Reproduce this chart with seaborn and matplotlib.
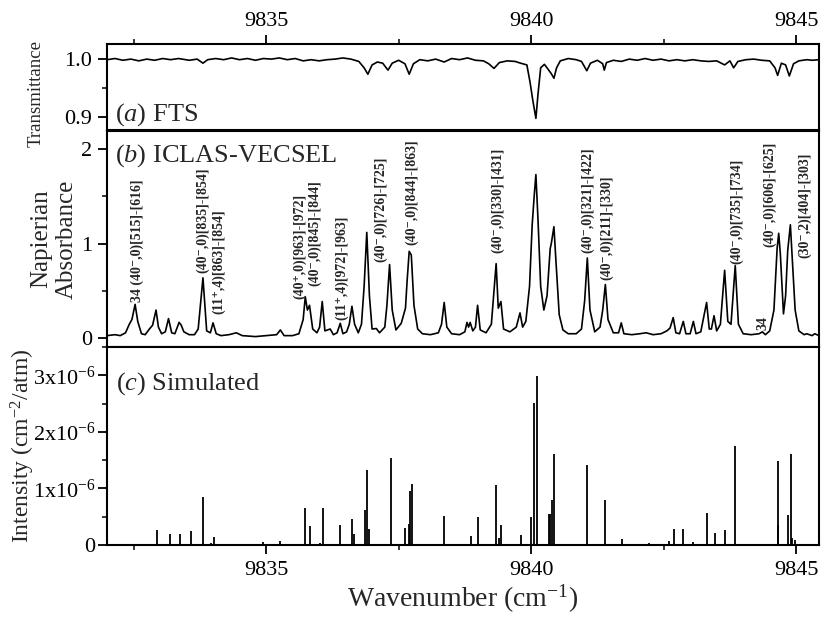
import matplotlib
matplotlib.use("Agg")
import numpy as np
import pandas as pd
import matplotlib.pyplot as plt
import seaborn as sns
from matplotlib.ticker import MultipleLocator, FuncFormatter

# ---------------- data ----------------
# (a) FTS transmittance trace (vertices)
fts_wn = [9832.00, 9832.15, 9832.30, 9832.45, 9832.60, 9832.75, 9832.90, 9833.05, 9833.20, 9833.35,
          9833.55, 9833.70, 9833.81, 9833.90, 9834.05, 9834.20, 9834.35, 9834.50, 9834.65, 9834.80,
          9834.95, 9835.10, 9835.25, 9835.40, 9835.55, 9835.70, 9835.85, 9836.00, 9836.15, 9836.30,
          9836.45, 9836.60, 9836.75, 9836.85, 9836.92, 9837.00, 9837.10, 9837.20, 9837.30, 9837.38,
          9837.50, 9837.62, 9837.70, 9837.78, 9837.90, 9838.05, 9838.20, 9838.36, 9838.50, 9838.65,
          9838.80, 9838.95, 9839.10, 9839.20, 9839.30, 9839.40, 9839.55, 9839.70, 9839.80, 9839.92,
          9839.98, 9840.03, 9840.09, 9840.13, 9840.18, 9840.25, 9840.30, 9840.38, 9840.43, 9840.48,
          9840.55, 9840.70, 9840.85, 9840.95, 9841.05, 9841.12, 9841.25, 9841.35, 9841.38, 9841.42,
          9841.55, 9841.70, 9841.85, 9842.00, 9842.15, 9842.30, 9842.45, 9842.60, 9842.75, 9842.90,
          9843.05, 9843.20, 9843.35, 9843.50, 9843.65, 9843.75, 9843.82, 9843.90, 9844.05, 9844.20,
          9844.35, 9844.50, 9844.60, 9844.65, 9844.72, 9844.80, 9844.87, 9844.95, 9845.05, 9845.20,
          9845.30, 9845.43]
fts_tr = [0.999, 1.001, 0.998, 1.000, 0.997, 1.000, 0.998, 1.001, 0.999, 1.001,
          0.998, 1.000, 0.993, 0.999, 1.001, 0.999, 1.002, 0.999, 1.001, 0.998,
          1.001, 1.000, 1.002, 0.999, 1.001, 0.997, 0.999, 0.997, 0.999, 1.000,
          1.002, 1.000, 0.996, 0.985, 0.974, 0.990, 0.995, 0.993, 0.981, 0.993,
          0.998, 0.992, 0.974, 0.992, 0.999, 0.997, 1.000, 0.995, 1.001, 0.999,
          1.002, 0.998, 0.997, 0.992, 0.984, 0.994, 0.997, 0.996, 0.993, 0.990,
          0.960, 0.930, 0.898, 0.940, 0.985, 0.991, 0.985, 0.975, 0.967, 0.985,
          0.997, 1.001, 0.999, 0.996, 0.980, 0.993, 0.998, 0.992, 0.981, 0.994,
          0.998, 0.996, 1.000, 0.998, 1.001, 0.998, 1.000, 0.997, 0.999, 0.997,
          0.999, 0.997, 0.996, 0.997, 0.990, 0.997, 0.985, 0.996, 0.999, 1.000,
          0.998, 0.997, 0.985, 0.972, 0.993, 0.990, 0.971, 0.992, 0.997, 0.999,
          0.998, 0.999]

# (b) ICLAS-VECSEL absorbance trace (vertices)
icl_wn = [9832.00, 9832.15, 9832.25, 9832.35, 9832.42, 9832.47, 9832.53, 9832.58, 9832.65, 9832.72,
          9832.80, 9832.86, 9832.925, 9832.97, 9833.03, 9833.10, 9833.16, 9833.22, 9833.28, 9833.36,
          9833.40, 9833.45, 9833.55, 9833.65, 9833.72, 9833.81, 9833.88, 9833.95, 9834.00, 9834.06,
          9834.15, 9834.30, 9834.44, 9834.55, 9834.80, 9835.00, 9835.20, 9835.27, 9835.34, 9835.50,
          9835.62, 9835.70, 9835.74, 9835.78, 9835.82, 9835.88, 9835.96, 9836.01, 9836.06, 9836.11,
          9836.21, 9836.27, 9836.34, 9836.40, 9836.45, 9836.52, 9836.57, 9836.62, 9836.67, 9836.74,
          9836.80, 9836.85, 9836.90, 9836.95, 9837.00, 9837.08, 9837.14, 9837.24, 9837.28, 9837.33,
          9837.38, 9837.45, 9837.55, 9837.63, 9837.66, 9837.70, 9837.74, 9837.79, 9837.86, 9837.95,
          9838.10, 9838.25, 9838.31, 9838.36, 9838.41, 9838.50, 9838.65, 9838.75, 9838.79, 9838.82,
          9838.85, 9838.90, 9838.95, 9838.99, 9839.04, 9839.15, 9839.25, 9839.34, 9839.38, 9839.43,
          9839.48, 9839.60, 9839.72, 9839.79, 9839.84, 9839.90, 9839.97, 9840.02, 9840.06, 9840.09,
          9840.13, 9840.18, 9840.24, 9840.30, 9840.36, 9840.38, 9840.43, 9840.47, 9840.53, 9840.60,
          9840.70, 9840.85, 9840.95, 9841.01, 9841.06, 9841.11, 9841.20, 9841.30, 9841.35, 9841.40,
          9841.45, 9841.55, 9841.65, 9841.70, 9841.75, 9841.90, 9842.05, 9842.17, 9842.30, 9842.45,
          9842.56, 9842.62, 9842.68, 9842.73, 9842.80, 9842.87, 9842.92, 9843.00, 9843.06, 9843.11,
          9843.20, 9843.31, 9843.36, 9843.40, 9843.45, 9843.50, 9843.57, 9843.65, 9843.71, 9843.77,
          9843.85, 9843.91, 9844.00, 9844.15, 9844.30, 9844.36, 9844.42, 9844.50, 9844.58, 9844.64,
          9844.67, 9844.70, 9844.76, 9844.80, 9844.84, 9844.89, 9844.93, 9844.98, 9845.05, 9845.15,
          9845.20, 9845.30, 9845.35, 9845.43]
icl_ab = [0.03, 0.04, 0.03, 0.06, 0.15, 0.20, 0.36, 0.18, 0.05, 0.04,
          0.10, 0.14, 0.30, 0.12, 0.05, 0.07, 0.21, 0.06, 0.05, 0.17,
          0.14, 0.07, 0.04, 0.04, 0.10, 0.64, 0.08, 0.06, 0.165, 0.05,
          0.03, 0.04, 0.06, 0.03, 0.02, 0.03, 0.04, 0.09, 0.03, 0.03,
          0.05, 0.20, 0.44, 0.30, 0.35, 0.10, 0.06, 0.12, 0.39, 0.08,
          0.10, 0.04, 0.06, 0.16, 0.05, 0.07, 0.15, 0.34, 0.15, 0.06,
          0.15, 0.55, 1.12, 0.45, 0.10, 0.105, 0.06, 0.12, 0.35, 0.78,
          0.30, 0.09, 0.16, 0.32, 0.60, 0.92, 0.88, 0.35, 0.10, 0.05,
          0.04, 0.06, 0.15, 0.38, 0.12, 0.05, 0.04, 0.07, 0.17, 0.12,
          0.17, 0.08, 0.12, 0.35, 0.09, 0.06, 0.15, 0.79, 0.32, 0.39,
          0.10, 0.07, 0.12, 0.27, 0.12, 0.18, 0.55, 1.20, 1.52, 1.73,
          1.25, 0.55, 0.30, 0.45, 0.95, 1.00, 1.18, 0.80, 0.25, 0.09,
          0.05, 0.05, 0.10, 0.40, 0.85, 0.30, 0.07, 0.12, 0.30, 0.57,
          0.20, 0.06, 0.06, 0.165, 0.05, 0.04, 0.05, 0.06, 0.04, 0.05,
          0.08, 0.11, 0.22, 0.06, 0.05, 0.18, 0.05, 0.05, 0.18, 0.05,
          0.07, 0.38, 0.10, 0.10, 0.24, 0.08, 0.15, 0.72, 0.18, 0.15,
          0.77, 0.15, 0.05, 0.04, 0.05, 0.07, 0.04, 0.08, 0.30, 0.95,
          1.11, 0.90, 0.26, 0.45, 0.93, 1.20, 0.80, 0.30, 0.08, 0.04,
          0.05, 0.03, 0.05, 0.03]

# (c) simulated line list: positions and intensities (units of 1e-6 cm^-2/atm)
sim_wn = [9832.20, 9832.94, 9833.19, 9833.38, 9833.58, 9833.82, 9833.97, 9834.02, 9834.95, 9835.27,
          9835.74, 9835.82, 9836.01, 9836.07, 9836.14, 9836.40, 9836.62, 9836.66, 9836.87, 9836.91,
          9836.94, 9837.35, 9837.45, 9837.63, 9837.69, 9837.71, 9837.75, 9838.10, 9838.35, 9838.86,
          9839.00, 9839.34, 9839.39, 9839.43, 9839.55, 9839.80, 9840.00, 9840.06, 9840.11, 9840.34,
          9840.36, 9840.39, 9840.43, 9841.06, 9841.40, 9841.60, 9841.72, 9842.23, 9842.60, 9842.69,
          9842.87, 9843.05, 9843.32, 9843.46, 9843.65, 9843.84, 9844.21, 9844.65, 9844.66, 9844.84,
          9844.90, 9844.93, 9844.97, 9845.29]
sim_int = [0.02, 0.27, 0.20, 0.20, 0.24, 0.85, 0.03, 0.15, 0.05, 0.07,
           0.65, 0.34, 0.03, 0.66, 0.02, 0.36, 0.46, 0.20, 0.62, 1.33,
           0.28, 1.54, 0.02, 0.30, 0.38, 0.95, 1.08, 0.02, 0.52, 0.16,
           0.49, 1.06, 0.13, 0.35, 0.02, 0.18, 0.50, 2.51, 2.99, 0.55,
           0.55, 0.80, 1.61, 1.42, 0.80, 0.02, 0.11, 0.03, 0.07, 0.28,
           0.28, 0.05, 0.56, 0.22, 0.27, 1.75, 0.02, 1.48, 0.35, 0.53,
           1.61, 0.12, 0.09, 0.02]

# assignment labels in panel (b)
lab_text = ["34 (40\u207b,0)[515]-[616]", "(40\u207b,0)[835]-[854]", "(11\u207a,4)[863]-[854]",
            "(40\u207a,0)[963]-[972]", "(40\u207b,0)[845]-[844]", "(11\u207a,4)[972]-[963]",
            "(40\u207b,0)[726]-[725]", "(40\u207b,0)[844]-[863]", "(40\u207b,0)[330]-[431]",
            "(40\u207b,0)[321]-[422]", "(40\u207b,0)[211]-[330]", "(40\u207b,0)[735]-[734]",
            "34", "(40\u207b,0)[606]-[625]", "(30\u207b,2)[404]-[303]"]
lab_x = [9832.58, 9833.80, 9834.10, 9835.63, 9835.92, 9836.42, 9837.17, 9837.74, 9839.37,
         9841.07, 9841.42, 9843.87, 9844.37, 9844.50, 9845.16]
lab_y = [0.39, 0.69, 0.26, 0.42, 0.55, 0.19, 0.81, 0.99, 0.90,
         0.90, 0.62, 0.79, 0.09, 0.97, 0.85]

top_ticks = [9835, 9840, 9845]

# ---------------- styling ----------------
sns.set_style("ticks")
plt.rcParams["font.family"] = ["Liberation Serif", "DejaVu Serif"]
plt.rcParams.update({
    "mathtext.fontset": "custom",
    "mathtext.rm": "Liberation Serif",
    "mathtext.it": "Liberation Serif:italic",
    "mathtext.bf": "Liberation Serif:bold",
    "axes.linewidth": 1.5,
    "axes.edgecolor": "black",
    "xtick.color": "black",
    "ytick.color": "black",
    "xtick.major.width": 1.3,
    "ytick.major.width": 1.3,
    "xtick.minor.width": 1.1,
    "ytick.minor.width": 1.1,
    "xtick.major.size": 6.5,
    "ytick.major.size": 6.5,
    "xtick.minor.size": 3.5,
    "ytick.minor.size": 3.5,
    "xtick.direction": "out",
    "ytick.direction": "out",
})

W, H = 824, 622
fig = plt.figure(figsize=(W / 100, H / 100), dpi=100)
L, R = 107 / W, 819 / W
ax_a = fig.add_axes([L, 1 - 130 / H, R - L, 86 / H])
ax_b = fig.add_axes([L, 1 - 347 / H, R - L, 216 / H])
ax_c = fig.add_axes([L, 1 - 545 / H, R - L, 198 / H])

xmin, xmax = 9832.0, 9845.43
TICKFS = 16

df_a = pd.DataFrame({"wn": fts_wn, "T": fts_tr})
sns.lineplot(data=df_a, x="wn", y="T", ax=ax_a, color="black", lw=1.2,
             estimator=None, sort=False)
df_b = pd.DataFrame({"wn": icl_wn, "A": icl_ab})
sns.lineplot(data=df_b, x="wn", y="A", ax=ax_b, color="black", lw=1.2,
             estimator=None, sort=False)
sim = pd.DataFrame({"wn": sim_wn, "I": np.array(sim_int) * 1e-6})
ax_c.vlines(sim["wn"], 0, sim["I"], color="black", lw=1.3)
ax_c.axhline(0, color="black", lw=1.2)

for ax in (ax_a, ax_b, ax_c):
    ax.set_xlim(xmin, xmax)
    ax.xaxis.set_major_locator(MultipleLocator(5))
    ax.xaxis.set_minor_locator(MultipleLocator(2.5))
    for s in ax.spines.values():
        s.set_visible(True)
        s.set_linewidth(1.5)
    ax.set_xlabel("")
    ax.set_ylabel("")
    ax.tick_params(axis="both", which="both", labelsize=TICKFS)

# panel a
ax_a.set_ylim(0.878, 1.026)
ax_a.yaxis.set_major_locator(MultipleLocator(0.1))
ax_a.yaxis.set_minor_locator(MultipleLocator(0.05))
ax_a.yaxis.set_major_formatter(FuncFormatter(lambda v, p: f"{v:.1f}"))
ax_a.xaxis.tick_top()
ax_a.set_xticks(top_ticks)
ax_a.set_xticklabels([str(t) for t in top_ticks])
ax_a.tick_params(axis="x", which="both", top=True, bottom=False, labeltop=True,
                 labelbottom=False, pad=3)
ax_a.tick_params(axis="y", pad=4)
ax_a.text(0.011, 0.11, r"($\mathit{a}$) FTS", transform=ax_a.transAxes,
          fontsize=19, va="baseline", ha="left")
ax_a.set_ylabel("Transmittance", fontsize=13.5)
ax_a.yaxis.set_label_coords(-0.087, 0.42)

# panel b
ax_b.set_ylim(-0.09, 2.19)
ax_b.yaxis.set_major_locator(MultipleLocator(1))
ax_b.yaxis.set_minor_locator(MultipleLocator(0.5))
ax_b.tick_params(axis="x", which="both", top=False, bottom=False,
                 labelbottom=False, labeltop=False)
ax_b.tick_params(axis="y", pad=4)
ax_b.text(0.011, 0.858, r"($\mathit{b}$) ICLAS-VECSEL", transform=ax_b.transAxes,
          fontsize=19, va="baseline", ha="left")
ax_b.set_ylabel("Napierian\nAbsorbance", fontsize=18, linespacing=1.2)
ax_b.yaxis.set_label_coords(-0.041, 0.5)
for t, x, y in zip(lab_text, lab_x, lab_y):
    ax_b.text(x, y, t, rotation=90, ha="center", va="bottom", fontsize=10,
              fontweight="bold")

# panel c
ax_c.set_ylim(0, 3.5e-6)
ax_c.yaxis.set_major_locator(MultipleLocator(1e-6))
ax_c.yaxis.set_minor_locator(MultipleLocator(0.5e-6))


def fmt_int(v, p):
    n = int(round(v * 1e6))
    return "0" if n == 0 else f"{n}x10$^{{-6}}$"


ax_c.yaxis.set_major_formatter(FuncFormatter(fmt_int))
ax_c.tick_params(axis="x", which="both", top=False, bottom=True, labelbottom=True, pad=5)
ax_c.tick_params(axis="y", pad=2)
ax_c.text(0.013, 0.786, r"($\mathit{c}$) Simulated", transform=ax_c.transAxes,
          fontsize=19, va="baseline", ha="left")
ax_c.set_ylabel(r"Intensity (cm$^{-2}$/atm)", fontsize=17)
ax_c.yaxis.set_label_coords(-0.098, 0.5)
ax_c.set_xlabel(r"Wavenumber (cm$^{-1}$)", fontsize=20, labelpad=2)

fig.savefig("out.png", dpi=100)
